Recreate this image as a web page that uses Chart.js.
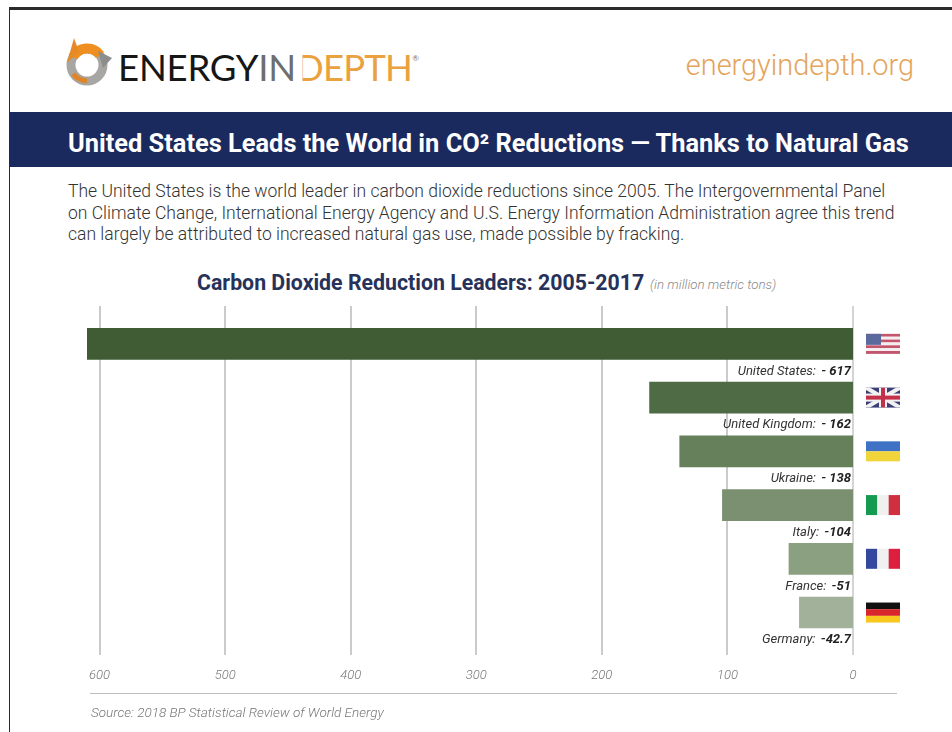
<!DOCTYPE html>
<html>
<head>
<meta charset="utf-8">
<title>Carbon Dioxide Reduction Leaders</title>
<script src="https://cdn.jsdelivr.net/npm/chart.js@4"></script>
<style>
  html, body { margin: 0; padding: 0; background: #fff; overflow: hidden; }
  body { width: 952px; height: 732px; position: relative; font-family: Roboto, sans-serif; }
  .abs { position: absolute; white-space: nowrap; }
  #frameTop { left: 9px; right: 0; top: 7px; height: 3px; background: #2b2b2b; }
  #frameLeft { left: 9px; top: 7px; bottom: 0; width: 1px; background: #2b2b2b; }
  #logo { left: 62px; top: 37px; }
  #brand { left: 118px; top: 44px; font: 400 36.5px/46px Lato, sans-serif; color: #161616; letter-spacing: -0.2px; }
  #brand .in { color: #6d6e70; }
  #brand .depth { color: #e9a23f; letter-spacing: -0.8px; }
  #brand .d { display: inline-block; clip-path: inset(0 0 0 24%); }
  #brand sup { font-size: 8px; line-height: 0; vertical-align: 20px; color: #777; }
  #site { right: 38px; top: 47px; font: 300 28.9px/36px Roboto, sans-serif; color: #e4a45a; }
  #band { left: 10px; right: 0; top: 112px; height: 55px; background: #1b2a5e; }
  #headline { left: 68px; top: 128px; font: 700 25.4px/30px Roboto, sans-serif; color: #fff; }
  #intro { left: 68px; top: 181px; font: 300 17.55px/21.6px Roboto, sans-serif; color: #333; }
  #chartTitle { left: 197px; top: 269px; font: 700 21.3px/28px Roboto, sans-serif; color: #26325a; }
  #unit { left: 650px; top: 277px; font: italic 300 13.3px/16px Roboto, sans-serif; color: #8a8a8a; }
  #rule { left: 90px; width: 807px; top: 693px; height: 1px; background: #bdbdbd; }
  #source { left: 91px; top: 704px; font: italic 300 13.5px/16px Roboto, sans-serif; color: #777; }
  canvas { position: absolute; left: 0; top: 0; }
</style>
</head>
<body>
<div class="abs" id="frameTop"></div>
<div class="abs" id="frameLeft"></div>

<svg class="abs" id="logo" width="50" height="50" viewBox="0 0 50 50">
  <circle cx="25" cy="28" r="16" fill="none" stroke="#a8a6a2" stroke-width="9"/>
  <path d="M11 20 A16 16 0 0 1 38 18" fill="none" stroke="#ee8f1f" stroke-width="10"/>
  <path d="M5 26 L12 1 L17 15 Z" fill="#e58a25"/>
  <path d="M36 14 L50 21 L41 31 Z" fill="#8d8d8d"/>
  <path d="M11 37 Q16 43 25 44" fill="none" stroke="#df8427" stroke-width="5"/>
</svg>
<div class="abs" id="brand">ENERGY<span class="in">IN</span><span class="depth"><span class="d">D</span>EPTH</span><sup>®</sup></div>
<div class="abs" id="site">energyindepth.org</div>

<div class="abs" id="band"></div>
<div class="abs" id="headline">United States Leads the World in CO² Reductions — Thanks to Natural Gas</div>
<div class="abs" id="intro">The United States is the world leader in carbon dioxide reductions since 2005. The Intergovernmental Panel<br>on Climate Change, International Energy Agency and U.S. Energy Information Administration agree this trend<br>can largely be attributed to increased natural gas use, made possible by fracking.</div>

<div class="abs" id="chartTitle">Carbon Dioxide Reduction Leaders: 2005-2017</div>
<div class="abs" id="unit">(in million metric tons)</div>

<canvas id="reductionChart" width="952" height="732"></canvas>

<div class="abs" id="rule"></div>
<div class="abs" id="source">Source: 2018 BP Statistical Review of World Energy</div>

<script>
// chart data
const countries = ['United States', 'United Kingdom', 'Ukraine', 'Italy', 'France', 'Germany'];
const reductions = [617, 162, 138, 104, 51, 42.7];
const valueLabels = ['- 617', '- 162', '- 138', '-104', '-51', '-42.7'];
const tickValues = [0, 100, 200, 300, 400, 500, 600];

const barColors = ['#3f5c34', '#4f6b45', '#65805b', '#7a9070', '#8b9f81', '#a2b29a'];

// flag painters, drawn in a 34x20 box
function stripes(ctx, x, y, colors, vertical) {
    colors.forEach((c, i) => {
        ctx.fillStyle = c;
        if (vertical) ctx.fillRect(x + i * 34 / colors.length, y, 34 / colors.length, 20);
        else ctx.fillRect(x, y + i * 20 / colors.length, 34, 20 / colors.length);
    });
}

const flags = {
    'United States': (ctx, x, y) => {
        for (let i = 0; i < 7; i++) {
            ctx.fillStyle = i % 2 ? '#f4eef0' : '#c2566c';
            ctx.fillRect(x, y + i * 20 / 7, 34, 20 / 7);
        }
        ctx.fillStyle = '#5a6a9c';
        ctx.fillRect(x, y, 15, 11);
    },
    'United Kingdom': (ctx, x, y) => {
        ctx.fillStyle = '#3a3f78';
        ctx.fillRect(x, y, 34, 20);
        ctx.save();
        ctx.beginPath();
        ctx.rect(x, y, 34, 20);
        ctx.clip();
        ctx.strokeStyle = '#f2f2f2';
        ctx.lineWidth = 4;
        ctx.beginPath();
        ctx.moveTo(x, y); ctx.lineTo(x + 34, y + 20);
        ctx.moveTo(x + 34, y); ctx.lineTo(x, y + 20);
        ctx.stroke();
        ctx.fillStyle = '#f2f2f2';
        ctx.fillRect(x + 13, y, 8, 20);
        ctx.fillRect(x, y + 6, 34, 8);
        ctx.fillStyle = '#c4304a';
        ctx.fillRect(x + 15, y, 4, 20);
        ctx.fillRect(x, y + 8, 34, 4);
        ctx.restore();
    },
    'Ukraine': (ctx, x, y) => stripes(ctx, x, y, ['#3f71c4', '#f0d43a']),
    'Italy': (ctx, x, y) => stripes(ctx, x, y, ['#159a52', '#f0f0f0', '#cf2f3f'], true),
    'France': (ctx, x, y) => stripes(ctx, x, y, ['#34479f', '#f0f0f0', '#dc1f3f'], true),
    'Germany': (ctx, x, y) => stripes(ctx, x, y, ['#111111', '#d8262c', '#f8c81e'])
};

// grid lines run past the plot area, above and below the bars
const gridPlugin = {
    id: 'longGrid',
    beforeDatasetsDraw(chart) {
        const ctx = chart.ctx;
        const xScale = chart.scales.x;
        ctx.save();
        tickValues.forEach(v => {
            const px = Math.round(xScale.getPixelForValue(v));
            ctx.strokeStyle = v === 0 ? '#a9a9a9' : '#cbcbcb';
            ctx.lineWidth = v === 0 ? 1 : 2;
            ctx.beginPath();
            ctx.moveTo(px, 306);
            ctx.lineTo(px, 655);
            ctx.stroke();
        });
        ctx.restore();
    }
};

// country + value text under each bar, and the flag on the right
const barNotesPlugin = {
    id: 'barNotes',
    afterDatasetsDraw(chart) {
        const ctx = chart.ctx;
        const zeroX = chart.scales.x.getPixelForValue(0);
        const meta = chart.getDatasetMeta(0);
        ctx.save();
        ctx.textBaseline = 'middle';
        ctx.textAlign = 'right';
        meta.data.forEach((bar, i) => {
            const textY = bar.y + 27.5;
            const rightX = zeroX - 2;
            ctx.fillStyle = '#222';
            ctx.font = 'italic 700 13px Roboto';
            ctx.fillText(valueLabels[i], rightX, textY);
            const w = ctx.measureText(valueLabels[i]).width;
            ctx.fillStyle = '#333';
            ctx.font = 'italic 400 13px Roboto';
            ctx.fillText(countries[i] + ': ', rightX - w - 2, textY);
            flags[countries[i]](ctx, zeroX + 13, bar.y - 10);
        });
        ctx.restore();
    }
};

new Chart(document.getElementById('reductionChart').getContext('2d'), {
    type: 'bar',
    data: {
        labels: countries,
        datasets: [{
            data: reductions,
            backgroundColor: barColors,
            borderWidth: 0,
            barThickness: 31
        }]
    },
    options: {
        indexAxis: 'y',
        responsive: false,
        animation: false,
        layout: { padding: { left: 87, right: 99, top: 317, bottom: 28 } },
        plugins: { legend: { display: false }, tooltip: { enabled: false } },
        scales: {
            x: {
                reverse: true,
                min: 0,
                // the picture cuts the 617 bar off at the left edge of the plot
                max: 610,
                grid: { display: false },
                border: { display: false },
                afterBuildTicks: scale => { scale.ticks = tickValues.map(v => ({ value: v })); },
                ticks: {
                    maxRotation: 0,
                    padding: 20.5,
                    color: '#777',
                    font: { family: 'Roboto', size: 13, style: 'italic', weight: 300 }
                }
            },
            y: { display: false, grid: { display: false } }
        }
    },
    plugins: [gridPlugin, barNotesPlugin]
});
</script>
</body>
</html>
